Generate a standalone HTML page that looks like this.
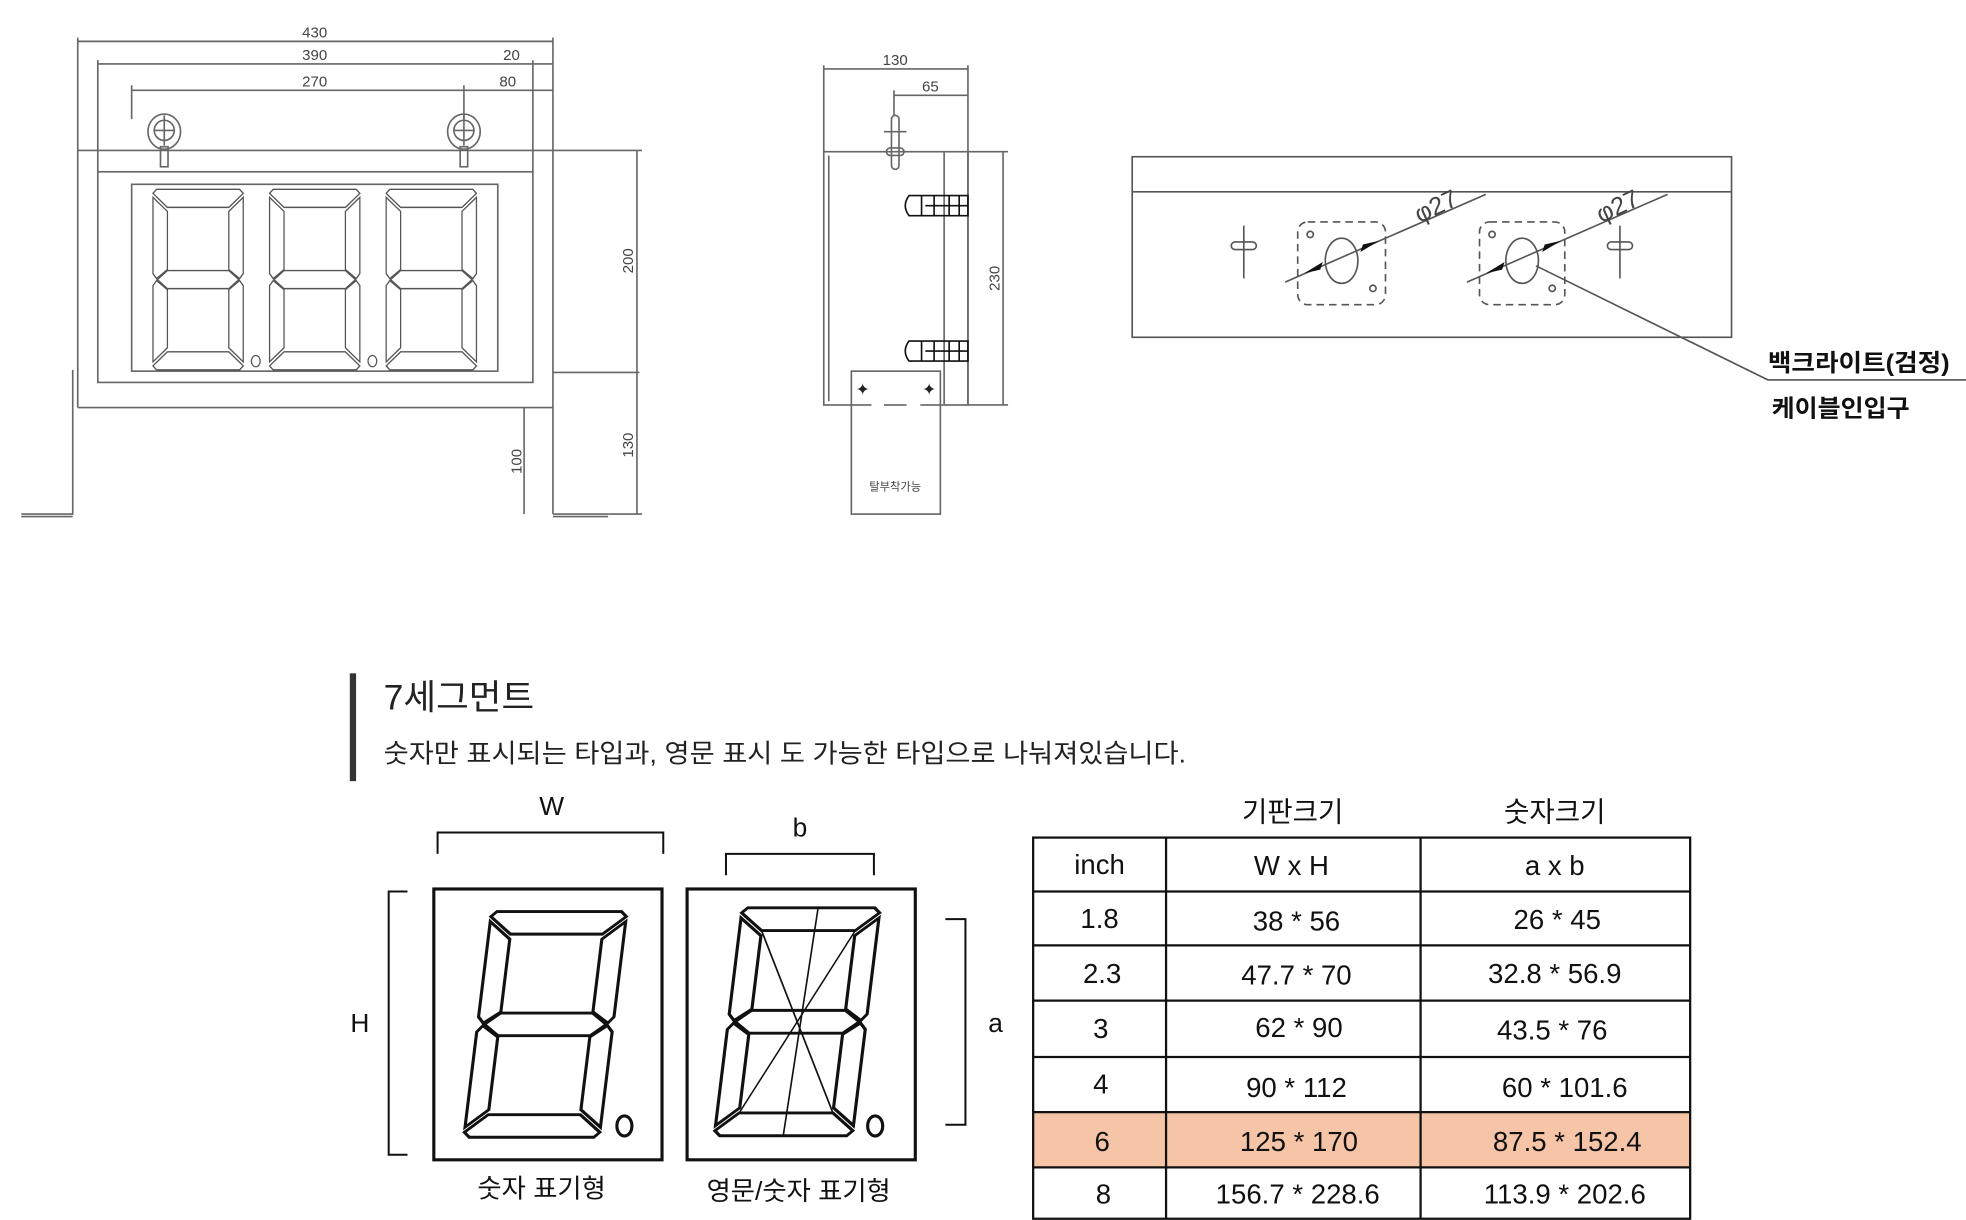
<!DOCTYPE html>
<html><head><meta charset="utf-8"><style>
html,body{margin:0;padding:0;background:#fff;width:1966px;height:1220px;overflow:hidden}
svg{display:block}
text{font-family:"Liberation Sans","Noto Sans CJK KR",sans-serif}
</style></head><body>
<svg width="1966" height="1220" viewBox="0 0 1568 973" preserveAspectRatio="none" xmlns="http://www.w3.org/2000/svg">
<defs>
<g id="seg">
<polygon points="4,0 96,0 100,4 84,18 16,18 0,4"/>
<polygon points="100,8 100,84 96,89 84,80 84,22"/>
<polygon points="0,8 16,22 16,80 4,89 0,84"/>
<polygon points="5,90 16,81 84,81 95,90 84,99 16,99"/>
<polygon points="0,96 4,91 16,100 16,158 0,172"/>
<polygon points="100,96 100,172 84,158 84,100 96,91"/>
<polygon points="0,176 16,162 84,162 100,176 96,180 4,180"/>
</g>
</defs>

<!-- FRONT VIEW -->
<g stroke="#666" stroke-width="1.3" fill="none">
<line x1="62" y1="33" x2="441" y2="33"/>
<line x1="78" y1="51" x2="441" y2="51"/>
<line x1="105" y1="72" x2="441" y2="72"/>
<line x1="62" y1="30" x2="62" y2="325"/>
<line x1="78" y1="48" x2="78" y2="137"/>
<line x1="425" y1="48" x2="425" y2="137"/>
<line x1="441" y1="30" x2="441" y2="410"/>
<line x1="105" y1="68" x2="105" y2="95"/>
<line x1="370" y1="68" x2="370" y2="95"/>
<line x1="62" y1="120" x2="441" y2="120"/>
<line x1="62" y1="325" x2="441" y2="325"/>
<rect x="78" y="137" width="347" height="168"/>
<rect x="105" y="147" width="292" height="149"/>
<polyline points="58,295 58,410 17,410"/>
<line x1="17" y1="412" x2="58" y2="412"/>
<line x1="441" y1="410" x2="485" y2="410"/>
<line x1="441" y1="412" x2="485" y2="412"/>
<line x1="441" y1="297" x2="510" y2="297"/>
<line x1="441" y1="120" x2="512" y2="120"/>
<line x1="485" y1="410" x2="512" y2="410"/>
<line x1="508" y1="120" x2="508" y2="410"/>
<line x1="418" y1="325" x2="418" y2="410"/>
<ellipse cx="131" cy="105" rx="13" ry="14"/><circle cx="131" cy="104" r="8"/>
<line x1="131" y1="92" x2="131" y2="116"/><line x1="123" y1="104" x2="139" y2="104"/>
<rect x="128" y="117" width="6" height="16"/>
<ellipse cx="370" cy="105" rx="13" ry="14"/><circle cx="370" cy="104" r="8"/>
<line x1="370" y1="92" x2="370" y2="116"/><line x1="362" y1="104" x2="378" y2="104"/>
<rect x="367" y="117" width="6" height="16"/>
</g>
<g fill="none" stroke="#555" stroke-width="1.4">
<use href="#seg" transform="translate(122,151) scale(0.72,0.8)"/>
<use href="#seg" transform="translate(215,151) scale(0.72,0.8)"/>
<use href="#seg" transform="translate(308,151) scale(0.72,0.8)"/>
</g>
<ellipse cx="204" cy="288" rx="3.5" ry="4.5" fill="none" stroke="#555"/>
<ellipse cx="297" cy="288" rx="3.5" ry="4.5" fill="none" stroke="#555"/>
<g font-size="12" fill="#444" text-anchor="middle">
<text x="251" y="30">430</text><text x="251" y="48">390</text><text x="408" y="48">20</text>
<text x="251" y="69">270</text><text x="405" y="69">80</text>
<text transform="translate(505,208) rotate(-90)">200</text>
<text transform="translate(505,355) rotate(-90)">130</text>
<text transform="translate(416,368) rotate(-90)">100</text>
</g>

<!-- SIDE VIEW -->
<g stroke="#666" stroke-width="1.3" fill="none">
<line x1="657" y1="55" x2="772" y2="55"/>
<line x1="713" y1="76" x2="772" y2="76"/>
<line x1="657" y1="52" x2="657" y2="121"/>
<line x1="772" y1="52" x2="772" y2="323"/>
<line x1="713" y1="72" x2="713" y2="92"/>
<rect x="657" y="121" width="115" height="202"/>
<line x1="661" y1="124" x2="661" y2="320"/>
<line x1="753" y1="121" x2="753" y2="323"/>
<line x1="772" y1="121" x2="804" y2="121"/>
<line x1="772" y1="323" x2="804" y2="323"/>
<line x1="800" y1="121" x2="800" y2="323"/>
<rect x="711" y="92" width="6" height="43" rx="3"/>
<line x1="705" y1="105" x2="723" y2="105"/><rect x="707" y="118" width="14" height="6" rx="3"/>
<rect x="679" y="296" width="71" height="114"/>
</g>
<g stroke="#111" stroke-width="1.3" fill="none">
<path d="M725,156 h47 v16 h-47 q-6,-8 0,-16z"/><line x1="735" y1="156" x2="735" y2="172"/><line x1="745" y1="156" x2="745" y2="172"/><line x1="757" y1="156" x2="757" y2="172"/><line x1="765" y1="156" x2="765" y2="172"/><line x1="738" y1="164" x2="772" y2="164"/>
<path d="M725,272 h47 v16 h-47 q-6,-8 0,-16z"/><line x1="735" y1="272" x2="735" y2="288"/><line x1="745" y1="272" x2="745" y2="288"/><line x1="757" y1="272" x2="757" y2="288"/><line x1="765" y1="272" x2="765" y2="288"/><line x1="738" y1="280" x2="772" y2="280"/>
</g>
<g stroke="#fff" stroke-width="3"><line x1="695" y1="323" x2="705" y2="323"/><line x1="723" y1="323" x2="734" y2="323"/></g>
<g fill="#222"><text x="688" y="315" font-size="13" text-anchor="middle">✦</text><text x="741" y="315" font-size="13" text-anchor="middle">✦</text></g>
<g font-size="12" fill="#444" text-anchor="middle">
<text x="714" y="52">130</text><text x="742" y="73">65</text>
<text transform="translate(797,222) rotate(-90)">230</text>
<text x="714" y="391" font-size="9">탈부착가능</text>
</g>

<!-- REAR VIEW -->
<g stroke="#555" stroke-width="1.3" fill="none">
<rect x="903" y="125" width="478" height="144"/>
<line x1="903" y1="153" x2="1381" y2="153"/>
<line x1="992" y1="180" x2="992" y2="222"/>
<rect x="982" y="193" width="20" height="6" rx="3"/>
<line x1="1292" y1="180" x2="1292" y2="222"/>
<rect x="1282" y="193" width="20" height="6" rx="3"/>
<rect x="1035" y="177" width="70" height="66" rx="8" stroke-dasharray="6,4"/>
<rect x="1180" y="177" width="68" height="66" rx="8" stroke-dasharray="6,4"/>
<ellipse cx="1070" cy="208" rx="13" ry="18"/>
<ellipse cx="1214" cy="208" rx="13" ry="18"/>
<circle cx="1045" cy="187" r="2.5"/><circle cx="1095" cy="230" r="2.5"/>
<circle cx="1190" cy="187" r="2.5"/><circle cx="1238" cy="230" r="2.5"/>
<line x1="1025" y1="225" x2="1185" y2="155"/>
<line x1="1170" y1="225" x2="1330" y2="155"/>
<polyline points="1225,212 1410,303 1568,303"/>
</g>
<g fill="#111">
<polygon points="1040,218 1055,209 1053,215"/><polygon points="1100,192 1085,201 1087,195"/>
<polygon points="1185,218 1200,209 1198,215"/><polygon points="1245,192 1230,201 1232,195"/>
</g>
<g font-size="20" fill="#444"><text transform="translate(1132,178) rotate(-25)">φ27</text><text transform="translate(1277,178) rotate(-25)">φ27</text></g>
<g font-size="19" font-weight="bold" fill="#111"><text x="1410" y="296" textLength="145" lengthAdjust="spacingAndGlyphs">백크라이트(검정)</text><text x="1413" y="332" textLength="110" lengthAdjust="spacingAndGlyphs">케이블인입구</text></g>

<!-- LOWER SECTION -->
<rect x="279" y="537" width="5" height="86" fill="#333"/>
<text x="306" y="566" font-size="28" fill="#222" textLength="120" lengthAdjust="spacingAndGlyphs">7세그먼트</text>
<text x="306" y="608" font-size="21" fill="#222" textLength="640" lengthAdjust="spacingAndGlyphs">숫자만 표시되는 타입과, 영문 표시 도 가능한 타입으로 나눠져있습니다.</text>

<g stroke="#111" stroke-width="1.6" fill="none">
<polyline points="349,681 349,664 529,664 529,681"/>
<polyline points="579,698 579,681 697,681 697,698"/>
<polyline points="325,711 310,711 310,921 325,921"/>
<polyline points="754,733 770,733 770,897 754,897"/>
</g>
<g stroke="#111" stroke-width="2.5" fill="none">
<rect x="346" y="709" width="182" height="216"/>
<rect x="548" y="709" width="182" height="216"/>
<use href="#seg" transform="translate(392,727) skewX(-7) scale(1.08,1)" stroke-width="2.3"/>
<use href="#seg" transform="translate(592,724) skewX(-7) scale(1.1,1.01)" stroke-width="2.3"/>
<ellipse cx="498" cy="898" rx="6" ry="8"/>
<ellipse cx="698" cy="898" rx="6" ry="8"/>
</g>
<g stroke="#111" stroke-width="1.2" transform="translate(592,724) skewX(-7) scale(1.1,1.01)">
<line x1="16" y1="18" x2="50" y2="90"/><line x1="84" y1="18" x2="50" y2="90"/>
<line x1="55" y1="0" x2="50" y2="180"/>
<line x1="16" y1="162" x2="50" y2="90"/><line x1="84" y1="162" x2="50" y2="90"/>
</g>
<g font-size="21" fill="#111" text-anchor="middle">
<text x="440" y="650">W</text><text x="638" y="667">b</text><text x="287" y="823">H</text><text x="794" y="823">a</text>
<text x="432" y="955">숫자 표기형</text><text x="637" y="957">영문/숫자 표기형</text>
</g>

<!-- TABLE -->
<rect x="824" y="887" width="524" height="44" fill="#f6c4a6"/>
<g stroke="#111" stroke-width="1.8" fill="none">
<rect x="824" y="668" width="524" height="304"/>
<line x1="930" y1="668" x2="930" y2="972"/><line x1="1133" y1="668" x2="1133" y2="972"/>
<line x1="824" y1="711" x2="1348" y2="711"/><line x1="824" y1="754" x2="1348" y2="754"/>
<line x1="824" y1="798" x2="1348" y2="798"/><line x1="824" y1="843" x2="1348" y2="843"/>
<line x1="824" y1="887" x2="1348" y2="887"/><line x1="824" y1="931" x2="1348" y2="931"/>
</g>
<g font-size="22" fill="#111" text-anchor="middle">
<text x="1031" y="655">기판크기</text><text x="1240" y="655">숫자크기</text>
<text x="877" y="697">inch</text><text x="1030" y="698">W x H</text><text x="1240" y="698">a x b</text>
<text x="877" y="740">1.8</text><text x="1034" y="742">38 * 56</text><text x="1242" y="741">26  * 45</text>
<text x="879" y="784">2.3</text><text x="1034" y="785">47.7 * 70</text><text x="1240" y="784">32.8  * 56.9</text>
<text x="878" y="828">3</text><text x="1036" y="827">62 * 90</text><text x="1238" y="829">43.5 * 76</text>
<text x="878" y="872">4</text><text x="1034" y="875">90 * 112</text><text x="1248" y="875">60 * 101.6</text>
<text x="879" y="918">6</text><text x="1036" y="918">125 * 170</text><text x="1250" y="918">87.5 * 152.4</text>
<text x="880" y="960">8</text><text x="1035" y="960">156.7  * 228.6</text><text x="1248" y="960">113.9 * 202.6</text>
</g>
</svg>
</body></html>
